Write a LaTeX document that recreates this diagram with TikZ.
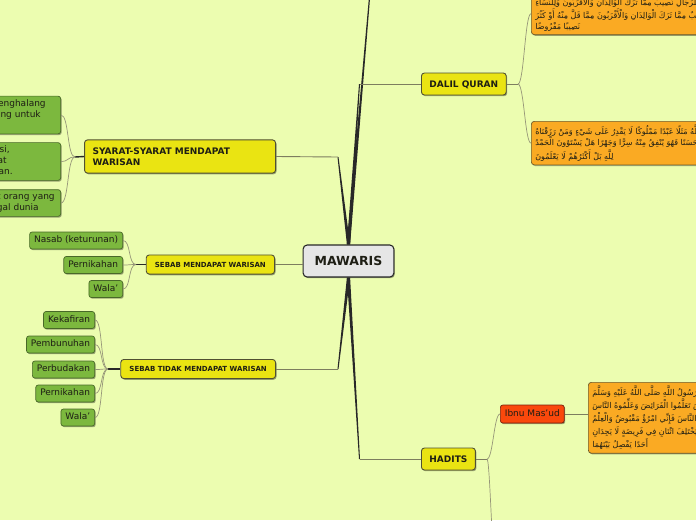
\documentclass[tikz,border=0pt]{standalone}
\usepackage{fontspec}
\setmainfont{DejaVu Sans}
\newfontfamily\arabicfont[Script=Arabic]{DejaVu Sans}
\TeXXeTstate=1
\usetikzlibrary{shadows}
\definecolor{bgc}{RGB}{236,253,176}
\definecolor{yel}{RGB}{234,228,18}
\definecolor{yelb}{RGB}{80,80,50}
\definecolor{grn}{RGB}{124,184,62}
\definecolor{grnb}{RGB}{72,104,40}
\definecolor{org}{RGB}{250,170,35}
\definecolor{orgb}{RGB}{110,90,40}
\definecolor{redf}{RGB}{250,72,12}
\definecolor{redb}{RGB}{120,30,10}
\definecolor{rootf}{RGB}{230,230,230}
\definecolor{dk}{RGB}{40,40,40}
\definecolor{brc}{RGB}{125,125,95}
\definecolor{cvc}{RGB}{150,150,120}
\definecolor{txt}{RGB}{30,30,20}
\newcommand\padr[1]{\rule{#1pt}{0pt}}
\newcommand\taper[2]{\fill[dk] ([xshift=-1.6pt]#1) -- ([xshift=1.6pt]#1) -- ([xshift=0.5pt]#2) -- ([xshift=-0.5pt]#2) -- cycle;}
\begin{document}
\begin{tikzpicture}[x=1pt,y=-1pt,
 shad/.style={drop shadow={shadow xshift=1pt,shadow yshift=-1.2pt,opacity=0.35,fill=black}},
 root/.style={draw=dk,fill=rootf,line width=1.1pt,rounded corners=4pt,font=\fontsize{12.5}{14}\selectfont\bfseries,text=txt,inner xsep=11.5pt,inner ysep=11.4pt,text height=9.2pt,text depth=0pt,shad},
 topic/.style={draw=yelb,fill=yel,line width=0.9pt,rounded corners=3pt,font=\fontsize{9}{11}\selectfont\bfseries,text=txt,inner xsep=8pt,inner ysep=7.7pt,text height=6.6pt,text depth=0pt,shad},
 topictwo/.style={draw=yelb,fill=yel,line width=0.9pt,rounded corners=3pt,font=\fontsize{9}{11}\selectfont\bfseries,text=txt,inner xsep=8pt,inner ysep=7.7pt,align=left,shad},
 topicsm/.style={draw=yelb,fill=yel,line width=0.9pt,rounded corners=3pt,font=\fontsize{7}{9}\selectfont\bfseries,text=txt,inner xsep=8.7pt,inner ysep=7pt,text height=5.1pt,text depth=0pt,shad},
 leaf/.style={draw=grnb,fill=grn,line width=0.7pt,rounded corners=2.5pt,font=\fontsize{9}{11}\selectfont,text=txt,inner xsep=4.5pt,inner ysep=4pt,text height=6.6pt,text depth=2.4pt,shad},
 leafm/.style={draw=grnb,fill=grn,line width=0.7pt,rounded corners=2.5pt,font=\fontsize{9}{11}\selectfont,text=txt,inner xsep=5pt,inner ysep=3.5pt,align=right,shad},
 redn/.style={draw=redb,fill=redf,line width=0.7pt,rounded corners=2.5pt,font=\fontsize{9}{11}\selectfont,text=txt,inner xsep=4.5pt,inner ysep=4.5pt,text height=6.6pt,text depth=2.4pt,shad},
 quran/.style={draw=orgb,fill=org,line width=0.7pt,rounded corners=3pt,font=\fontsize{8}{11}\selectfont\arabicfont,text=txt,align=left,inner xsep=4pt,inner ysep=3.5pt,shad},
 br/.style={draw=brc,line width=0.9pt},
 cv/.style={draw=cvc,line width=0.7pt},
 jn/.style={draw=dk,line width=1.4pt}
]
\useasboundingbox (0,0) rectangle (696,520);
\clip (0,0) rectangle (696,520);
\fill[bgc] (0,0) rectangle (696,520);

% coordinates
\coordinate (ctop) at (371,-20);
\coordinate (cdq) at (359.5,84);
\coordinate (csy) at (338,157);
\coordinate (cst) at (338,369);
\coordinate (chd) at (359.5,459);
\coordinate (jsy) at (75,157);
\coordinate (jsm) at (136,264.5);
\coordinate (jst) at (108,369);
\coordinate (jdq) at (518,84);
\coordinate (jhd) at (487,459);
\coordinate (hd2) at (505,640);

% nodes
\node[root] (m) at (348.5,261) {MAWARIS};
\node[topic,anchor=west] (dq) at (421,84) {DALIL QURAN};
\node[topic,anchor=west] (hd) at (421,459) {HADITS};
\node[topictwo,anchor=east,text width=175pt] (sy) at (276,156.5) {SYARAT-SYARAT MENDAPAT\\WARISAN};
\node[topicsm,anchor=east] (sm) at (275,264.5) {SEBAB MENDAPAT WARISAN};
\node[topicsm,anchor=east] (st) at (276,369) {SEBAB TIDAK MENDAPAT WARISAN};

\node[leafm,anchor=east] (s1) at (61,115) {Tidak adanya sesuatu yang menjadi penghalang\padr{10}\\atau sebab yang menghalangi seseorang untuk\padr{15}\\mendapatkan harta warisan\padr{75}};
\node[leafm,anchor=east] (s2) at (61,161.5) {Ahli waris benar-benar hidup dan jelas posisi,\padr{46}\\hubungan kekerabatannya dengan pewaris secara tepat\padr{49}\\serta hak dan bagian masing-masing sesuai ketentuan.\padr{43}};
\node[leafm,anchor=east] (s3) at (61,203) {Kematian muwarris, yaitu adanya kepastian wafat orang yang\padr{1}\\mewariskan harta, baik secara hakiki atau hukmi, telah meninggal dunia\padr{17}};

\node[leaf,anchor=east] (n1) at (123,240.5) {Nasab (keturunan)};
\node[leaf,anchor=east] (n2) at (123,265) {Pernikahan};
\node[leaf,anchor=east] (n3) at (123,289) {Wala'};

\node[leaf,anchor=east] (t1) at (95,320) {Kekafiran};
\node[leaf,anchor=east] (t2) at (95,344.5) {Pembunuhan};
\node[leaf,anchor=east] (t3) at (95,369.5) {Perbudakan};
\node[leaf,anchor=east] (t4) at (95,393.5) {Pernikahan};
\node[leaf,anchor=east] (t5) at (95,417.5) {Wala'};

\node[quran,anchor=south west] (q1) at (531,35) {\beginR لِلرِّجَالِ نَصِيبٌ مِمَّا تَرَكَ الْوَالِدَانِ وَالْأَقْرَبُونَ وَلِلنِّسَاءِ\endR\\\beginR نَصِيبٌ مِمَّا تَرَكَ الْوَالِدَانِ وَالْأَقْرَبُونَ مِمَّا قَلَّ مِنْهُ أَوْ كَثُرَ\endR\\\beginR نَصِيبًا مَفْرُوضًا\endR};
\node[quran,anchor=north west] (q2) at (531,121) {\beginR ضَرَبَ اللَّهُ مَثَلًا عَبْدًا مَمْلُوكًا لَا يَقْدِرُ عَلَى شَيْءٍ وَمَنْ رَزَقْنَاهُ\endR\\\beginR مِنَّا رِزْقًا حَسَنًا فَهُوَ يُنْفِقُ مِنْهُ سِرًّا وَجَهْرًا هَلْ يَسْتَوُونَ الْحَمْدُ\endR\\\beginR لِلَّهِ بَلْ أَكْثَرُهُمْ لَا يَعْلَمُونَ\endR};

\node[redn,anchor=west] (ib) at (500,414) {Ibnu Mas'ud};
\node[quran,anchor=north west] (hq) at (588,382) {\beginR قَالَ لِي رَسُولُ اللَّهِ صَلَّى اللَّهُ عَلَيْهِ وَسَلَّمَ\endR\\\beginR تَعَلَّمُوا الْعِلْمَ وَعَلِّمُوهُ النَّاسَ تَعَلَّمُوا الْفَرَائِضَ وَعَلِّمُوهُ النَّاسَ\endR\\\beginR تَعَلَّمُوا الْقُرْآنَ وَعَلِّمُوهُ النَّاسَ فَإِنِّي امْرُؤٌ مَقْبُوضٌ وَالْعِلْمُ\endR\\\beginR سَيَنْقُصُ وَتَظْهَرُ الْفِتَنُ حَتَّى يَخْتَلِفَ اثْنَانِ فِي فَرِيضَةٍ لَا يَجِدَانِ\endR\\\beginR أَحَدًا يَفْصِلُ بَيْنَهُمَا\endR};

% main branches
\taper{m.north}{ctop}
\taper{m.north}{cdq}
\taper{m.north}{csy}
\taper{m.south}{cst}
\taper{m.south}{chd}
\draw[br] (cdq) -- (dq.west);
\draw[br] (csy) -- (sy.east);
\draw[br] (cst) -- (st.east);
\draw[br] (chd) -- (hd.west);
\draw[br] (sm.east) -- (sm.east -| m.west);

% sub branches
\draw[jn] (sy.west) -- (jsy);
\draw[jn] (sm.west) -- (jsm);
\draw[jn] (st.west) -- (jst);
\draw[br] (dq.east) -- (jdq);
\draw[br] (hd.east) -- (jhd);
\foreach \c in {s1,s2,s3} \draw[cv] (jsy) .. controls +(-8,0) and +(8,0) .. (\c.east);
\foreach \c in {n1,n2,n3} \draw[cv] (jsm) .. controls +(-8,0) and +(8,0) .. (\c.east);
\foreach \c in {t1,t2,t3,t4,t5} \draw[cv] (jst) .. controls +(-8,0) and +(8,0) .. (\c.east);
\foreach \c in {q1,q2} \draw[cv] (jdq) .. controls +(6,0) and +(-6,0) .. (\c.west);
\draw[cv] (jhd) .. controls +(6,0) and +(-6,0) .. (ib.west);
\draw[cv] (jhd) .. controls +(4,0) and +(-12,0) .. (hd2);
\draw[br] (ib.east) -- (ib.east -| hq.west);
\end{tikzpicture}
\end{document}
